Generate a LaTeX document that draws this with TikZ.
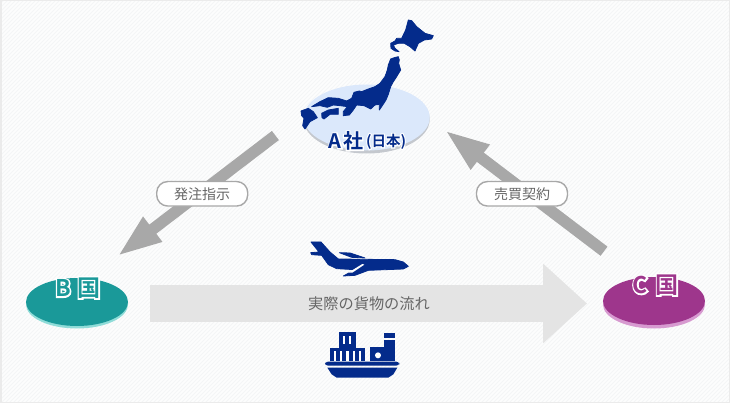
\documentclass[tikz,border=0pt]{standalone}
\usepackage{fontspec}
\usetikzlibrary{arrows.meta}
\setmainfont{Noto Sans CJK JP}
\newfontfamily\cjkb{Noto Sans CJK JP Bold}
\newcommand\haloed[2]{\rlap{\textcolor{white}{\special{pdf:code 2 Tr #1 w 1 1 1 RG}#2\special{pdf:code 0 Tr 1 w}}}#2}
\definecolor{navy}{HTML}{042B8B}
\definecolor{diskblue}{HTML}{DBE8FB}
\definecolor{diskshadow}{HTML}{C4C8CE}
\definecolor{teal1}{HTML}{1A9999}
\definecolor{teal2}{HTML}{8FDCD8}
\definecolor{plum1}{HTML}{9E368C}
\definecolor{plum2}{HTML}{D79AD0}
\definecolor{arrowgray}{HTML}{A8A8A8}
\definecolor{flowgray}{HTML}{E4E4E4}
\definecolor{txt}{HTML}{666666}
\definecolor{bg}{HTML}{FDFDFD}
\definecolor{hatch}{HTML}{F4F5F6}
\definecolor{edge}{HTML}{EBEBEB}
\tikzset{
  pill/.style={draw=arrowgray,line width=1.4pt,fill=white,rounded corners=11pt,minimum width=91pt,minimum height=24.5pt,inner sep=0pt,text=txt,font=\fontsize{14pt}{16pt}\selectfont},
  flowlabel/.style={inner sep=0pt,text=txt,font=\fontsize{15.2pt}{17pt}\selectfont},
  alabel/.style={inner sep=0pt,text=navy,font=\cjkb\fontsize{20pt}{21pt}\selectfont},
  asmall/.style={inner sep=0pt,text=navy,font=\cjkb\fontsize{14.5pt}{16pt}\selectfont},
  tealbig/.style={inner sep=0pt,text=teal1,font=\cjkb\fontsize{23pt}{24pt}\selectfont},
  plumbig/.style={inner sep=0pt,text=plum1,font=\cjkb\fontsize{23pt}{24pt}\selectfont},
  bigarrow/.style={draw=arrowgray,line width=11.5pt,-{Triangle[length=45pt,width=28pt]}},
  flowarrow/.style={draw=flowgray,line width=37pt,-{Triangle[length=44pt,width=77pt]}},
  icon/.style={fill=navy,draw=none},
  land/.style={fill=navy,draw=navy,line width=0.8pt,line join=round},
}
\begin{document}
\begin{tikzpicture}[x=1pt,y=-1pt]
\useasboundingbox (0,0) rectangle (730,403);
\fill[bg] (0,0) rectangle (730,403);
\begin{scope}
\clip (0,0) rectangle (730,403);
\foreach \k in {0,4,...,1136} { \draw[hatch,line width=0.8pt] (\k,0) -- ++(-403,403); }
\end{scope}
\draw[edge,line width=1.5pt] (0.75,0.75) rectangle (729.25,402.25);
% arrows
\coordinate (bstart) at (275.4,135.5);
\coordinate (btip) at (117,256.5);
\coordinate (cstart) at (604,251.2);
\coordinate (ctip) at (444.5,130);
\coordinate (fstart) at (150,303.5);
\coordinate (ftip) at (587,303.5);
\draw[bigarrow] (bstart) -- (btip);
\draw[bigarrow] (cstart) -- (ctip);
\draw[flowarrow] (fstart) -- (ftip);
\node[pill] (order) at (202.2,193.8) {発注指示};
\node[pill] (sale) at (522,193.8) {売買契約};
\node[flowlabel] (flow) at (369,304) {実際の貨物の流れ};
% A disk
\fill[diskshadow] (366.7,119.5) ellipse (63 and 34);
\fill[diskblue] (366.7,117.5) ellipse (63 and 33);
% Japan
\begin{scope}[shift={(385,15)},x=0.3333pt,y=-0.3333pt]
\fill[land] (70,15)--(80,17)--(95,35)--(120,55)--(145,62)--(140,72)--(118,75)--(100,85)--(90,108)--(75,95)--(58,85)--(40,85)--(25,90)--(30,100)--(42,110)--(30,108)--(18,100)--(17,85)--(30,78)--(35,70)--(50,70)--(62,45)--cycle;
\end{scope}
\begin{scope}[shift={(300,55)},x=0.3333pt,y=-0.3333pt]
\fill[land] (272,12)--(283,8)--(295,5)--(298,15)--(296,25)--(302,45)--(290,65)--(280,80)--(272,95)--(265,118)--(258,135)--(245,155)--(238,165)--(238,148)--(225,150)--(212,162)--(192,152)--(170,150)--(160,165)--(148,180)--(130,182)--(130,170)--(142,155)--(120,152)--(100,150)--(82,157)--(60,152)--(35,155)--(60,140)--(85,128)--(115,130)--(140,138)--(155,130)--(162,112)--(178,108)--(185,110)--(205,102)--(225,95)--(240,85)--(255,65)--(262,45)--(265,30)--cycle;
\fill[land] (65,175)--(85,165)--(115,160)--(115,178)--(90,178)--(72,192)--(66,188)--cycle;
\fill[land] (3,168)--(25,160)--(40,170)--(52,188)--(30,200)--(15,222)--(8,212)--(12,190)--(5,182)--cycle;
\end{scope}
\node[alabel] (acap) at (335,141) {\haloed{2.4}{A}};
\node[alabel] (ash) at (353,141) {\haloed{2.4}{社}};
\node[asmall] (ajp) at (386,141.5) {\haloed{2.2}{(日本)}};
% B
\fill[teal2] (77,304.5) ellipse (51 and 24);
\fill[teal1] (77,302) ellipse (51 and 24);
\node[tealbig] (bb) at (63,288) {\haloed{3}{B}};
\node[tealbig] (bk) at (89,288) {\haloed{3}{国}};
% C
\fill[plum2] (654,304.5) ellipse (51 and 24);
\fill[plum1] (654,301) ellipse (51 and 24);
\node[plumbig] (cc) at (640,285) {\haloed{3}{C}};
\node[plumbig] (ck) at (667,285) {\haloed{3}{国}};
% plane
\begin{scope}[shift={(305,238)},x=0.3333pt,y=-0.3333pt]
\fill[land] (18,12)--(48,12)--(75,42)--(100,63)--(270,65)--(295,72)--(310,85)--(295,93)--(190,97)--(150,112)--(115,114)--(150,95)--(95,92)--(70,80)--(50,52)--(20,50)--(17,44)--(42,42)--cycle;
\fill[land] (103,44)--(135,45)--(180,60)--(140,58)--cycle;
\fill[white] (130,104)--(172,78)--(178,80)--(142,104)--cycle;
\end{scope}
% ship
\begin{scope}[shift={(300,235)},x=0.3333pt,y=-0.3333pt]
\fill[icon] (118,290) rectangle (168,342);
\fill[icon] (90,340) rectangle (195,378);
\fill[icon] (210,337) rectangle (252,378);
\fill[icon] (252,315) rectangle (284,378);
\fill[icon] (252,294) rectangle (284,308);
\fill[icon,rounded corners=3pt] (75,380) rectangle (298,392);
\fill[icon] (82,398)--(292,398)--(280,418)--(265,428)--(110,428)--(95,418)--cycle;
\fill[white] (234,361) circle (9);
\foreach \a/\b in {130/136,148/154} { \fill[white] (\a,302) rectangle (\b,328); }
\foreach \a/\b in {103/108,120/126,138/146,160/165,178/184} { \fill[white] (\a,348) rectangle (\b,378); }
\end{scope}
\end{tikzpicture}
\end{document}
